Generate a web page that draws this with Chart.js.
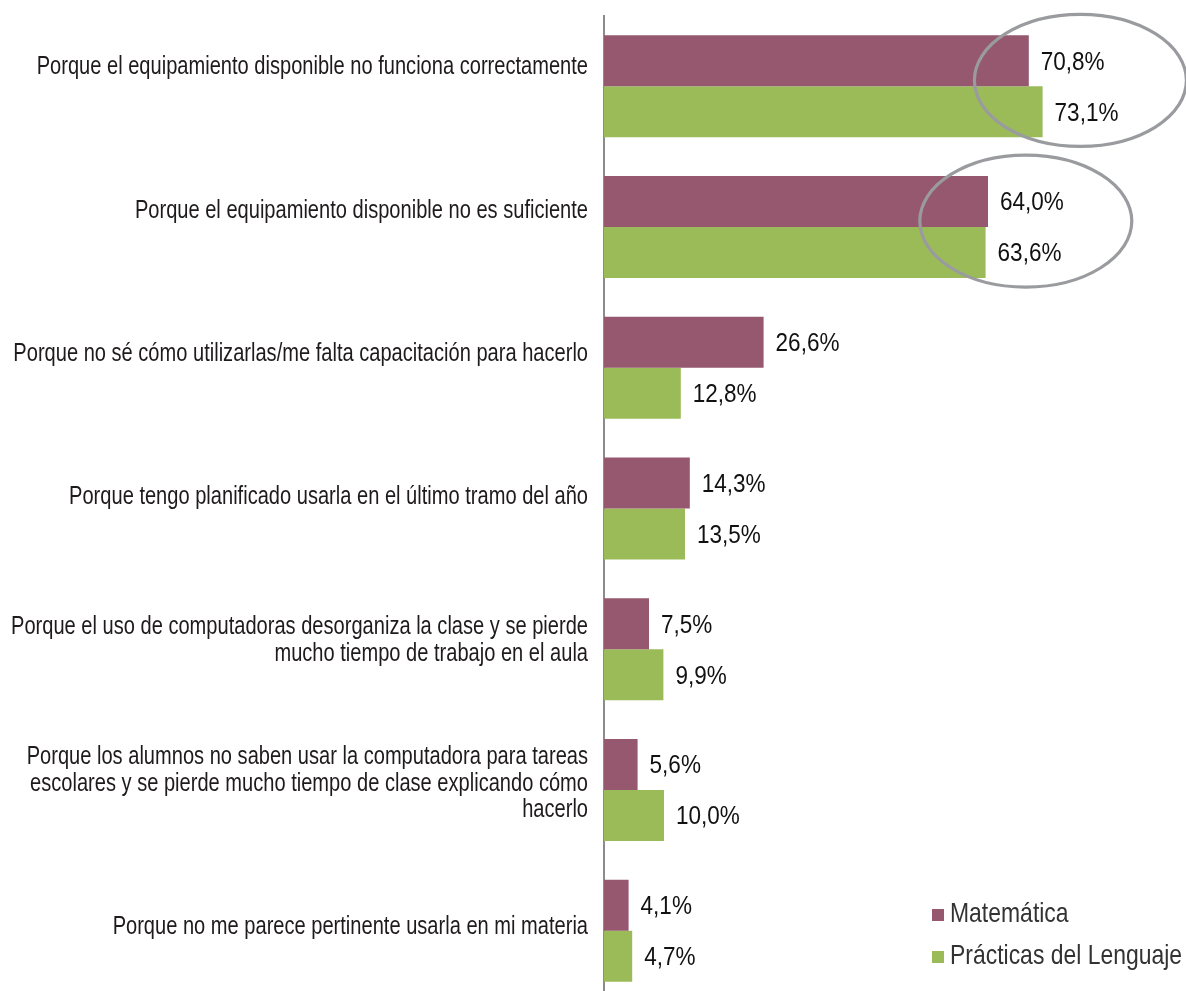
<!DOCTYPE html>
<html>
<head>
<meta charset="utf-8">
<script src="https://cdn.jsdelivr.net/npm/chart.js@4.4.0/dist/chart.umd.min.js"></script>
<style>
html, body { margin: 0; padding: 0; background: #fff; overflow: hidden; }
#wrap { position: relative; width: 1186px; height: 1001px; }
</style>
</head>
<body>
<div id="wrap"><canvas id="graph1"></canvas></div>
<script>
var categories = [
  'Porque el equipamiento disponible no funciona correctamente',
  'Porque el equipamiento disponible no es suficiente',
  'Porque no sé cómo utilizarlas/me falta capacitación para hacerlo',
  'Porque tengo planificado usarla en el último tramo del año',
  ['Porque el uso de computadoras desorganiza la clase y se pierde', 'mucho tiempo de trabajo en el aula'],
  ['Porque los alumnos no saben usar la computadora para tareas', 'escolares y se pierde mucho tiempo de clase explicando cómo', 'hacerlo'],
  'Porque no me parece pertinente usarla en mi materia'
];
var matematica = [70.8, 64.0, 26.6, 14.3, 7.5, 5.6, 4.1];
var lenguaje = [73.1, 63.6, 12.8, 13.5, 9.9, 10.0, 4.7];
var seriesNames = ['Matemática', 'Prácticas del Lenguaje'];
var highlighted = [0, 1];

var fontFamily = "'Liberation Sans', Arial, sans-serif";
var purple = '#95586f';
var green = '#9bbb59';

function pct(v) {
  return v.toFixed(1).replace('.', ',') + '%';
}

// the original uses a condensed face, so squeeze the text horizontally
function narrowText(ctx, text, x, y, size, squeeze, align) {
  ctx.save();
  ctx.font = size + 'px ' + fontFamily;
  ctx.textAlign = align;
  ctx.textBaseline = 'middle';
  ctx.scale(squeeze, 1);
  ctx.fillText(text, x / squeeze, y);
  ctx.restore();
}

// category labels; in the original they sit on a slightly wider pitch than the bars
var categoryLabels = {
  id: 'categoryLabels',
  afterDraw: function (chart) {
    var ctx = chart.ctx;
    var area = chart.chartArea;
    var pitch = area.height / 6.872;
    var lh = 26.5;
    ctx.save();
    ctx.fillStyle = '#1f1b1c';
    categories.forEach(function (c, i) {
      var lines = Array.isArray(c) ? c : [c];
      var yc = area.top + (i + 0.358) * pitch;
      var y0 = yc - (lines.length - 1) * lh / 2;
      lines.forEach(function (line, k) {
        narrowText(ctx, line, area.left - 16, y0 + k * lh, 25, 0.803, 'right');
      });
    });
    ctx.restore();
  }
};

// value labels at the end of each bar
var barLabels = {
  id: 'barLabels',
  afterDatasetsDraw: function (chart) {
    var ctx = chart.ctx;
    ctx.save();
    ctx.fillStyle = '#111';
    chart.data.datasets.forEach(function (ds, di) {
      chart.getDatasetMeta(di).data.forEach(function (bar, i) {
        narrowText(ctx, pct(ds.data[i]), bar.x + 12, bar.y + 2, 25, 0.9, 'left');
      });
    });
    ctx.restore();
  }
};

// gray ellipses around the first two groups
var circles = {
  id: 'circles',
  afterDatasetsDraw: function (chart) {
    var ctx = chart.ctx;
    var xs = chart.scales.x, ys = chart.scales.y;
    ctx.save();
    ctx.strokeStyle = '#9a9b9f';
    ctx.lineWidth = 3.2;
    highlighted.forEach(function (i) {
      var cx = xs.getPixelForValue(Math.max(matematica[i], lenguaje[i]) + 6.3);
      var cy = ys.getPixelForValue(i) - 6;
      ctx.beginPath();
      ctx.ellipse(cx, cy, 106, 66, 0, 0, Math.PI * 2);
      ctx.stroke();
    });
    ctx.restore();
  }
};

// legend in the lower right corner
var cornerLegend = {
  id: 'cornerLegend',
  afterDraw: function (chart) {
    var ctx = chart.ctx;
    var colors = [purple, green];
    var rows = [914, 956];
    ctx.save();
    seriesNames.forEach(function (name, i) {
      ctx.fillStyle = colors[i];
      ctx.fillRect(932, rows[i] - 5, 12, 12);
      ctx.fillStyle = '#333';
      narrowText(ctx, name, 950, rows[i], 28.5, 0.805, 'left');
    });
    ctx.restore();
  }
};

var context = document.getElementById('graph1').getContext('2d');
var chart = new Chart(context, {
  type: 'bar',
  data: {
    labels: categories,
    datasets: [{
      label: seriesNames[0],
      data: matematica,
      backgroundColor: purple,
      borderWidth: 0
    }, {
      label: seriesNames[1],
      data: lenguaje,
      backgroundColor: green,
      borderWidth: 0
    }]
  },
  options: {
    indexAxis: 'y',
    responsive: true,
    maintainAspectRatio: false,
    animation: false,
    layout: { padding: { top: 16, left: 0, right: 0, bottom: 0 } },
    datasets: { bar: { categoryPercentage: 0.725, barPercentage: 1.0 } },
    scales: {
      x: { display: false, min: 0, max: 97 },
      y: {
        grid: { display: false, drawTicks: false },
        border: { display: true, color: '#8c8c8c', width: 2 },
        ticks: { display: false },
        afterFit: function (axis) { axis.width = 604; }
      }
    },
    plugins: {
      legend: { display: false },
      tooltip: { enabled: false }
    }
  },
  plugins: [circles, barLabels, categoryLabels, cornerLegend]
});
</script>
</body>
</html>
